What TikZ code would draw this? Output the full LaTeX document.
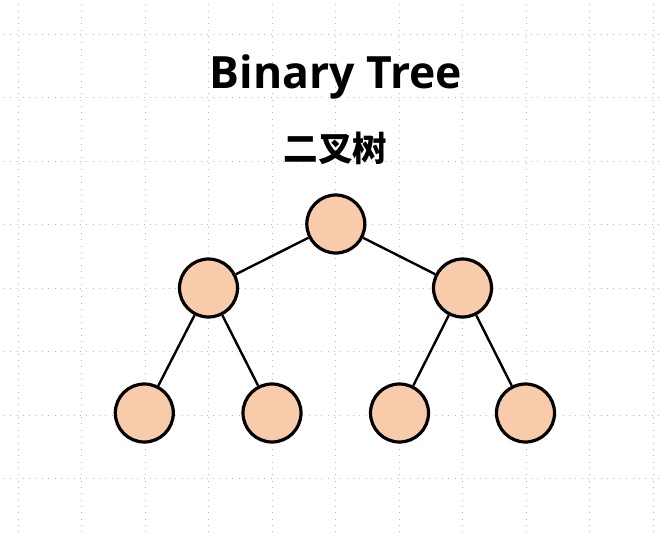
\documentclass[tikz,border=0pt]{standalone}
\usepackage{fontspec}
\setmainfont{Open Sans}
\newfontfamily\cjk{Noto Sans CJK SC}
\begin{document}
\begin{tikzpicture}[x=1pt,y=-1pt,
  gridline/.style={draw=black!28,line width=0.9pt,dash pattern=on 0.9pt off 5.45pt},
  treenode/.style={circle,draw=black,line width=3.2pt,fill=nodefill,minimum size=58pt,inner sep=0pt},
  edge/.style={draw=black,line width=2.4pt}]
\definecolor{nodefill}{HTML}{F8CBAA}
\useasboundingbox (0,0) rectangle (663,533);
\foreach \i in {0,...,10} {
  \draw[gridline] (18.3+63.5*\i,-2) -- (18.3+63.5*\i,535);
}
\foreach \j in {0,...,7} {
  \draw[gridline] (-2.5,34+63.5*\j) -- (665,34+63.5*\j);
}
\node[font=\bfseries\fontsize{44.5}{44.5}\selectfont,anchor=base] (title) at (336,88) {Binary Tree};
\node[font=\cjk\bfseries\fontsize{34.5}{34.5}\selectfont,anchor=base] (subtitle) at (335.5,161) {二叉树};
\node[treenode] (r) at (335.8,224) {};
\node[treenode] (a) at (208.5,288) {};
\node[treenode] (b) at (462.5,288) {};
\node[treenode] (a1) at (144.3,413) {};
\node[treenode] (a2) at (272,413) {};
\node[treenode] (b1) at (399.5,413) {};
\node[treenode] (b2) at (525.5,413) {};
\draw[edge] (r) -- (a);
\draw[edge] (r) -- (b);
\draw[edge] (a) -- (a1);
\draw[edge] (a) -- (a2);
\draw[edge] (b) -- (b1);
\draw[edge] (b) -- (b2);
\end{tikzpicture}
\end{document}
